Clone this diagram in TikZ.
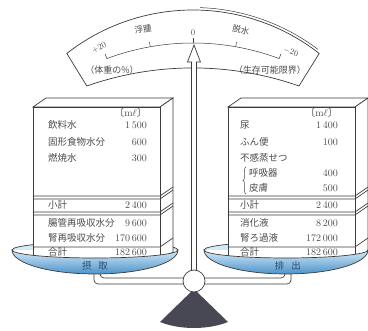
\documentclass[tikz,border=0pt]{standalone}
\usepackage{fontspec}
\newfontfamily\cjk{Noto Sans CJK JP}
\usetikzlibrary{positioning,decorations.pathreplacing}

\definecolor{linegray}{RGB}{60,60,60}
\definecolor{textgray}{RGB}{75,75,75}
\definecolor{panblue}{RGB}{85,163,222}
\definecolor{panlight}{RGB}{212,234,248}
\definecolor{pantext}{RGB}{40,75,120}
\definecolor{pivotgray}{RGB}{72,72,84}

\tikzset{
	outline/.style={draw=linegray, line width=0.7pt},
	item/.style={anchor=west, inner sep=0pt, text=textgray,
		font=\cjk\fontsize{9.5}{10}\selectfont},
	amount/.style={anchor=east, inner sep=0pt, text=textgray,
		font=\fontsize{10}{11}\selectfont},
	dial/.style={inner sep=0pt, text=textgray,
		font=\cjk\fontsize{8.5}{9}\selectfont},
	dialnum/.style={inner sep=0pt, text=textgray,
		font=\fontsize{8.5}{9}\selectfont},
	pantag/.style={inner sep=0pt, text=pantext,
		font=\cjk\fontsize{9.5}{10}\selectfont},
}

\begin{document}
\begin{tikzpicture}[x=1pt, y=1pt]
\useasboundingbox (0,0) rectangle (368,331);

\coordinate (dialc) at (193,116);
\coordinate (scalec) at (193,42);
\coordinate (lpan) at (95,81);
\coordinate (rpan) at (286,81);

% Dial plate
\draw[outline, fill=white] ([shift={(128:205)}]dialc)
	arc[start angle=128, end angle=52, radius=205]
	-- (299,245) arc[start angle=70.7, end angle=109.3, radius=321]
	-- cycle;
\draw[outline, line width=0.5pt] ([shift={(88:207.5)}]dialc)
	arc[start angle=88, end angle=53, radius=207.5];

% Scale
\draw[outline, line width=0.5pt] ([shift={(110.5:246)}]scalec)
	arc[start angle=110.5, end angle=69.5, radius=246];
\draw[outline, line width=0.5pt] ([shift={(110.5:246)}]scalec) -- ([shift={(110.5:251)}]scalec);
\draw[outline, line width=0.5pt] ([shift={(100:246)}]scalec) -- ([shift={(100:251)}]scalec);
\draw[outline, line width=0.5pt] ([shift={(90:246)}]scalec) -- ([shift={(90:251)}]scalec);
\draw[outline, line width=0.5pt] ([shift={(80:246)}]scalec) -- ([shift={(80:251)}]scalec);
\draw[outline, line width=0.5pt] ([shift={(69.5:246)}]scalec) -- ([shift={(69.5:251)}]scalec);

% Dial labels
\node[dialnum, rotate=28] (plus) at (99,283) {+20};
\node[dialnum] (zero) at (193,298) {0};
\node[dialnum, rotate=-22] (minus) at (291,279) {$-$20};
\node[dial, rotate=9] (edema) at (143,302) {浮腫};
\node[dial, rotate=-9] (dehydration) at (241,301) {脱水};
\node[dial, font=\cjk\fontsize{9}{10}\selectfont] (weight) at (112,261) {（体重の\%）};
\node[dial, font=\cjk\fontsize{9}{10}\selectfont] (limit) at (270,261) {（生存可能限界）};

% Back rims of the pans
\draw[outline, fill=panlight] ([xshift=-83pt]lpan)
	arc[start angle=180, end angle=0, x radius=83, y radius=8];
\draw[outline, fill=panlight] ([xshift=-82pt]rpan)
	arc[start angle=180, end angle=0, x radius=82, y radius=8];

% Intake block
\draw[outline, fill=white] (33,224) -- (46,233) -- (173,233) -- (160,224) -- cycle;
\draw[outline, fill=white] (160,224) -- (173,233) -- (173,79) -- (160,70) -- cycle;
\draw[outline, fill=white] (33,70) rectangle (160,224);
\draw[outline] (33,135) -- (160,135) -- (173,144);
\draw[outline] (33,132) -- (160,132) -- (173,141);
\draw[outline] (33,119) -- (160,119) -- (173,128);
\draw[outline] (33,116) -- (160,116) -- (173,125);
\draw[outline] (33,84) -- (160,84) -- (173,93);

\node[amount] (lunit) at (147,218) {{\cjk 〔}m$\ell${\cjk 〕}};
\node[item] (drink) at (48,206) {飲料水};
\node[amount] (drinkv) at (147,206) {1\,500};
\node[item] (food) at (48,189) {固形食物水分};
\node[amount] (foodv) at (147,189) {600};
\node[item] (burn) at (48,173) {燃焼水};
\node[amount] (burnv) at (147,173) {300};
\node[item] (lsub) at (48,126) {小計};
\node[amount] (lsubv) at (147,126) {2\,400};
\node[item] (gut) at (48,108) {腸管再吸収水分};
\node[amount] (gutv) at (147,108) {9\,600};
\node[item] (kidney) at (48,93) {腎再吸収水分};
\node[amount] (kidneyv) at (147,93) {170\,600};
\node[item] (lsum) at (48,79) {合計};
\node[amount] (lsumv) at (147,79) {182\,600};

% Output block
\draw[outline, fill=white] (228,224) -- (241,233) -- (368,233) -- (355,224) -- cycle;
\draw[outline, fill=white] (355,224) -- (368,233) -- (368,79) -- (355,70) -- cycle;
\draw[outline, fill=white] (228,70) rectangle (355,224);
\draw[outline] (228,135) -- (355,135) -- (368,144);
\draw[outline] (228,132) -- (355,132) -- (368,141);
\draw[outline] (228,119) -- (355,119) -- (368,128);
\draw[outline] (228,116) -- (355,116) -- (368,125);
\draw[outline] (228,84) -- (355,84) -- (368,93);

\node[amount] (runit) at (338,218) {{\cjk 〔}m$\ell${\cjk 〕}};
\node[item] (urine) at (240,206) {尿};
\node[amount] (urinev) at (338,206) {1\,400};
\node[item] (feces) at (240,189) {ふん便};
\node[amount] (fecesv) at (338,189) {100};
\node[item] (insens) at (240,173) {不感蒸せつ};
\node[item] (breath) at (249,158) {呼吸器};
\node[amount] (breathv) at (338,158) {400};
\node[item] (skin) at (249,143) {皮膚};
\node[amount] (skinv) at (338,143) {500};
\draw[draw=textgray, line width=0.5pt, decorate, decoration={brace, amplitude=3pt}]
	(246,137) -- (246,164);
\node[item] (rsub) at (240,126) {小計};
\node[amount] (rsubv) at (338,126) {2\,400};
\node[item] (digest) at (240,108) {消化液};
\node[amount] (digestv) at (338,108) {8\,200};
\node[item] (filtrate) at (240,93) {腎ろ過液};
\node[amount] (filtratev) at (338,93) {172\,000};
\node[item] (rsum) at (240,79) {合計};
\node[amount] (rsumv) at (338,79) {182\,600};

% Beam and hangers
\draw[outline, rounded corners=4pt] (94,62) |- (186,47);
\draw[outline, rounded corners=4pt] (100,62) |- (186,53);
\draw[outline, rounded corners=4pt] (291,62) |- (202,47);
\draw[outline, rounded corners=4pt] (285,62) |- (202,53);

% Pans
\path[outline, top color=panlight, middle color=panblue, bottom color=panblue!90!black]
	([xshift=-83pt]lpan) arc[start angle=180, end angle=360, x radius=83, y radius=8]
	arc[start angle=0, end angle=-180, x radius=83, y radius=24] -- cycle;
\node[pantag] (intake) at (95,65) {摂\hspace{7pt}取};
\path[outline, top color=panlight, middle color=panblue, bottom color=panblue!90!black]
	([xshift=-82pt]rpan) arc[start angle=180, end angle=360, x radius=82, y radius=8]
	arc[start angle=0, end angle=-180, x radius=82, y radius=24] -- cycle;
\node[pantag] (output) at (288,65) {排\hspace{7pt}出};

% Stand
\fill[pivotgray] (194,42) -- (160,9) .. controls (180,1) and (208,1) .. (228,9) -- cycle;
\draw[outline, fill=white] (191.5,58) -- (191.5,269) -- (187.5,269) -- (194,286)
	-- (200.5,269) -- (196.5,269) -- (196.5,58);
\node[outline, circle, fill=white, minimum size=22pt, inner sep=0pt] (pivot) at (194,50) {};

\end{tikzpicture}
\end{document}
